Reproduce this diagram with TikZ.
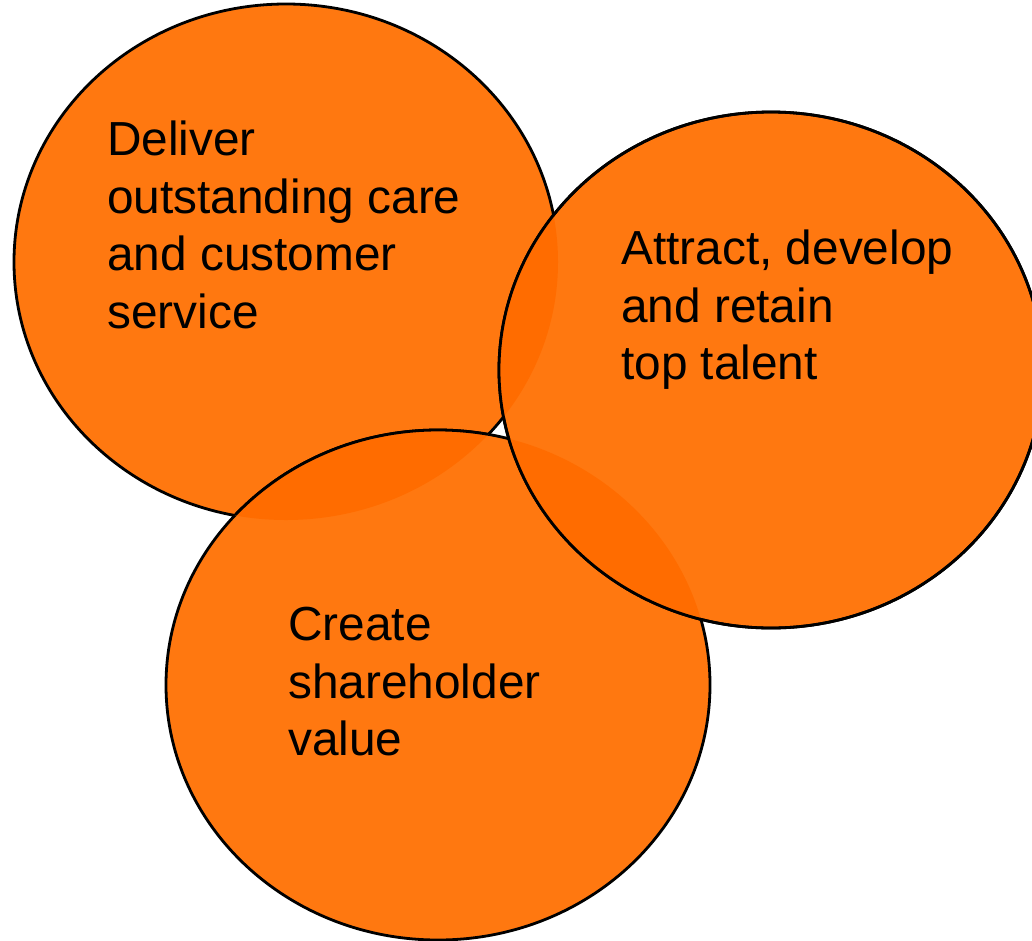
\documentclass[tikz,border=0pt]{standalone}
\usepackage{fontspec}
\setmainfont{Liberation Sans}
\begin{document}
\begin{tikzpicture}[x=1pt,y=-1pt]
\definecolor{orangemain}{RGB}{255,120,16}
\definecolor{orangelens}{RGB}{255,108,0}
\tikzset{
  circ/.style={draw=black,line width=2.8pt,fill=orangemain},
  outline/.style={draw=black,line width=2.8pt},
  lbl/.style={anchor=north west,inner sep=0pt,align=left,text=black,font=\fontsize{47.8}{57.5}\selectfont}
}
\def\circA{(286,262) ellipse [x radius=272, y radius=258]}
\def\circB{(771,370) ellipse [x radius=272, y radius=258]}
\def\circC{(438,685) ellipse [x radius=272, y radius=255]}
\useasboundingbox (0,0) rectangle (1032,940);
\clip (0,0) rectangle (1032,940);
% circles
\path[circ] \circA;
\path[circ] \circC;
\path[circ] \circB;
% overlaps
\begin{scope}\clip \circA; \fill[orangelens] \circC; \end{scope}
\begin{scope}\clip \circA; \fill[orangelens] \circB; \end{scope}
\begin{scope}\clip \circB; \fill[orangelens] \circC; \end{scope}
% visible outlines
\begin{scope}\clip \circA; \path[outline] \circC; \end{scope}
\path[outline] \circB;
% labels
\node[lbl] (deliver) at (107,121) {Deliver\\outstanding care\\and customer\\service};
\node[lbl] (attract) at (621,230) {Attract, develop\\and retain\\top talent};
\node[lbl] (create) at (288,607) {Create\\shareholder\\value};
\end{tikzpicture}
\end{document}
